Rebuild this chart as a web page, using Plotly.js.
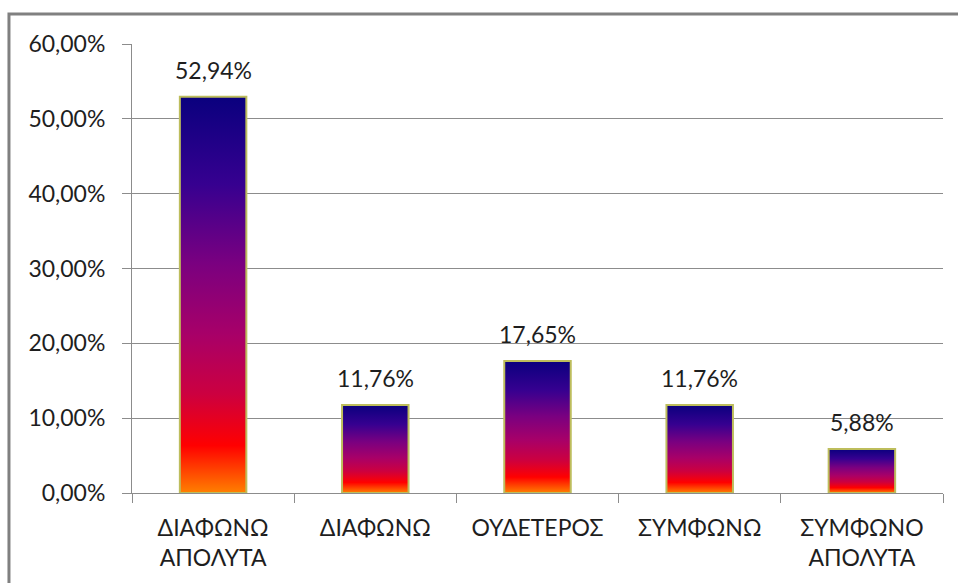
<!DOCTYPE html>
<html>
<head>
<meta charset="utf-8">
<script src="https://cdn.plot.ly/plotly-3.0.1.min.js"></script>
<style>html,body{margin:0;padding:0;background:#fff;}#chart{width:958px;height:583px;}</style>
</head>
<body>
<div id="chart"></div>
<script>
const categories = ["ΔΙΑΦΩΝΩ<br>ΑΠΟΛΥΤΑ", "ΔΙΑΦΩΝΩ", "ΟΥΔΕΤΕΡΟΣ", "ΣΥΜΦΩΝΩ", "ΣΥΜΦΩΝΟ<br>ΑΠΟΛΥΤΑ"];
const values = [0.5294, 0.1176, 0.1765, 0.1176, 0.0588];
const valueLabels = ["52,94%", "11,76%", "17,65%", "11,76%", "5,88%"];
const yTicks = [0, 0.1, 0.2, 0.3, 0.4, 0.5, 0.6];

const FONT = "Lato, 'Open Sans', sans-serif";
const TXT = "#1e1e1e";
const FS = 23;

const trace = {
  type: "bar",
  x: categories,
  y: values,
  marker: { color: "#800080", line: { color: "#bdbd5c", width: 2 } },
  hoverinfo: "none"
};

const annotations = categories.map((c, i) => ({
  x: c, y: values[i], xref: "x", yref: "y",
  text: valueLabels[i], showarrow: false,
  yanchor: "bottom", yshift: 11,
  font: { family: FONT, size: FS, color: TXT }
}));

const layout = {
  width: 958, height: 583,
  margin: { l: 132, r: 15, t: 44, b: 90 },
  paper_bgcolor: "#ffffff", plot_bgcolor: "#ffffff",
  separators: ",.",
  bargap: 0.59,
  showlegend: false,
  font: { family: FONT, size: FS, color: TXT },
  xaxis: {
    type: "category",
    tickson: "boundaries",
    ticks: "outside", ticklen: 9, tickcolor: "#8c8c8c", tickwidth: 1,
    ticklabelstandoff: 14,
    showline: true, linecolor: "#8c8c8c", linewidth: 1,
    showgrid: false, zeroline: false,
    tickfont: { family: FONT, size: FS, color: TXT }
  },
  yaxis: {
    range: [0, 0.6],
    tickvals: yTicks,
    tickformat: ".2%",
    ticks: "outside", ticklen: 9, tickcolor: "#8c8c8c", tickwidth: 1,
    ticklabelstandoff: 12,
    showline: true, linecolor: "#8c8c8c", linewidth: 1,
    showgrid: true, gridcolor: "#8c8c8c", gridwidth: 1,
    zeroline: true, zerolinecolor: "#8c8c8c", zerolinewidth: 1,
    tickfont: { family: FONT, size: FS, color: TXT }
  },
  annotations: annotations,
  shapes: [{
    type: "rect", xref: "paper", yref: "paper",
    x0: -0.1517, x1: 1.5, y0: -0.5, y1: 1.0668,
    line: { color: "#808080", width: 3 }, fillcolor: "rgba(0,0,0,0)", layer: "below"
  }]
};

function applyGradient(gd) {
  const svg = gd.querySelector(".main-svg");
  if (!svg) return;
  let defs = svg.querySelector("defs");
  if (!defs) { defs = document.createElementNS("http://www.w3.org/2000/svg", "defs"); svg.insertBefore(defs, svg.firstChild); }
  if (!document.getElementById("barGrad")) {
    const ns = "http://www.w3.org/2000/svg";
    const g = document.createElementNS(ns, "linearGradient");
    g.setAttribute("id", "barGrad");
    g.setAttribute("x1", "0"); g.setAttribute("y1", "0");
    g.setAttribute("x2", "0"); g.setAttribute("y2", "1");
    const stops = [[0, "#0a007e"], [0.22, "#360090"], [0.42, "#7a0080"], [0.6, "#a80068"], [0.75, "#cc0040"], [0.88, "#ff0000"], [1, "#ff8000"]];
    stops.forEach(s => {
      const st = document.createElementNS(ns, "stop");
      st.setAttribute("offset", s[0]);
      st.setAttribute("stop-color", s[1]);
      g.appendChild(st);
    });
    defs.appendChild(g);
  }
  gd.querySelectorAll(".trace.bars .point path").forEach(p => { p.style.fill = "url(#barGrad)"; });
}

const gd = document.getElementById("chart");
Plotly.newPlot(gd, [trace], layout, { displayModeBar: false, staticPlot: true }).then(() => {
  applyGradient(gd);
  gd.on && gd.on("plotly_afterplot", () => applyGradient(gd));
});
</script>
</body>
</html>
